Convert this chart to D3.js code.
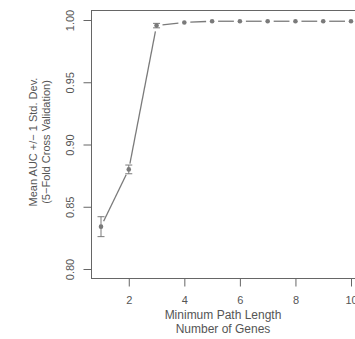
<!DOCTYPE html>
<html>
<head>
<meta charset="utf-8">
<script src="https://cdn.jsdelivr.net/npm/d3@7"></script>
<style>
  body { margin: 0; background: #fff; }
  text { font-family: "Liberation Sans", Arial, sans-serif; fill: #555; }
</style>
</head>
<body>
<svg id="chart" width="355" height="339"></svg>
<script>
// path length (number of genes)
var pathLength = [1, 2, 3, 4, 5, 6, 7, 8, 9, 10];
var meanAUC   = [0.834, 0.880, 0.9955, 0.998, 0.999, 0.999, 0.999, 0.999, 0.999, 0.999];
var sdAUC     = [0.008, 0.0035, 0.0018, 0.0005, 0.0004, 0.0004, 0.0004, 0.0004, 0.0004, 0.0004];
var xTicks = [2, 4, 6, 8, 10];
var yTicks = [0.80, 0.85, 0.90, 0.95, 1.00];

var svg = d3.select("#chart");
var col = "#7a7a7a";

var x = d3.scaleLinear().domain([0.64, 10.36]).range([91, 361]);
var y = d3.scaleLinear().domain([0.80, 1.00]).range([269, 20]);

// box
svg.append("rect")
  .attr("x", 91.5).attr("y", 10.5)
  .attr("width", 270).attr("height", 268)
  .attr("fill", "none").attr("stroke", "#666").attr("stroke-width", 1);

// y axis
var yAxis = d3.axisLeft(y).tickValues(yTicks).tickFormat(d3.format(".2f")).tickSize(8).tickSizeOuter(0);
var ya = svg.append("g").attr("transform", "translate(91.5,0)").call(yAxis);
ya.select(".domain").attr("stroke", "#666").attr("d", "M0," + y(0.80) + "V" + y(1.00));
ya.selectAll(".tick line").attr("stroke", "#666");
ya.selectAll(".tick text").attr("fill", "#555").attr("font-size", 11)
  .attr("font-family", "Liberation Sans, Arial, sans-serif")
  .attr("x", null)
  .attr("text-anchor", "middle")
  .attr("transform", "translate(-21,0) rotate(-90)")
  .attr("dy", "0.35em");

// x axis
var xAxis = d3.axisBottom(x).tickValues(xTicks).tickSize(8).tickSizeOuter(0);
var xa = svg.append("g").attr("transform", "translate(0,278.5)").call(xAxis);
xa.select(".domain").attr("stroke", "#666").attr("d", "M" + x(2) + ",0H" + x(10));
xa.selectAll(".tick line").attr("stroke", "#666");
xa.selectAll(".tick text").attr("fill", "#555").attr("font-size", 11)
  .attr("font-family", "Liberation Sans, Arial, sans-serif")
  .attr("y", 18);

// axis titles
svg.append("text").attr("x", 223).attr("y", 319).attr("text-anchor", "middle")
  .attr("font-size", 12).text("Minimum Path Length");
svg.append("text").attr("x", 223).attr("y", 333).attr("text-anchor", "middle")
  .attr("font-size", 12).text("Number of Genes");
svg.append("text").attr("transform", "translate(37,142) rotate(-90)").attr("text-anchor", "middle")
  .attr("font-size", 11).text("Mean AUC +/\u2212 1 Std. Dev.");
svg.append("text").attr("transform", "translate(50,142) rotate(-90)").attr("text-anchor", "middle")
  .attr("font-size", 11).text("(5\u2212Fold Cross Validation)");

var data = pathLength.map(function(d, i) { return {x: d, m: meanAUC[i], s: sdAUC[i]}; });

// line segments with gaps around points (type = "b")
var gap = 6;
for (var i = 0; i < data.length - 1; i++) {
  var x1 = x(data[i].x), y1 = y(data[i].m), x2 = x(data[i+1].x), y2 = y(data[i+1].m);
  var len = Math.hypot(x2 - x1, y2 - y1);
  if (len <= 2 * gap) continue;
  var ux = (x2 - x1) / len, uy = (y2 - y1) / len;
  svg.append("line")
    .attr("x1", x1 + ux * gap).attr("y1", y1 + uy * gap)
    .attr("x2", x2 - ux * gap).attr("y2", y2 - uy * gap)
    .attr("stroke", col).attr("stroke-width", 1.3);
}

// error bars
var eb = svg.append("g");
eb.selectAll(".v").data(data).enter().append("line")
  .attr("x1", d => x(d.x)).attr("x2", d => x(d.x))
  .attr("y1", d => y(d.m - d.s)).attr("y2", d => y(d.m + d.s))
  .attr("stroke", col).attr("stroke-width", 1);
eb.selectAll(".t").data(data.filter(d => d.x <= 3)).enter().append("line")
  .attr("x1", d => x(d.x) - 3.5).attr("x2", d => x(d.x) + 3.5)
  .attr("y1", d => y(d.m + d.s)).attr("y2", d => y(d.m + d.s))
  .attr("stroke", col).attr("stroke-width", 1);
eb.selectAll(".b").data(data.filter(d => d.x <= 3)).enter().append("line")
  .attr("x1", d => x(d.x) - 3.5).attr("x2", d => x(d.x) + 3.5)
  .attr("y1", d => y(d.m - d.s)).attr("y2", d => y(d.m - d.s))
  .attr("stroke", col).attr("stroke-width", 1);

// points
svg.selectAll("circle").data(data).enter().append("circle")
  .attr("cx", d => x(d.x)).attr("cy", d => y(d.m))
  .attr("r", 2.3).attr("fill", col);
</script>
</body>
</html>
